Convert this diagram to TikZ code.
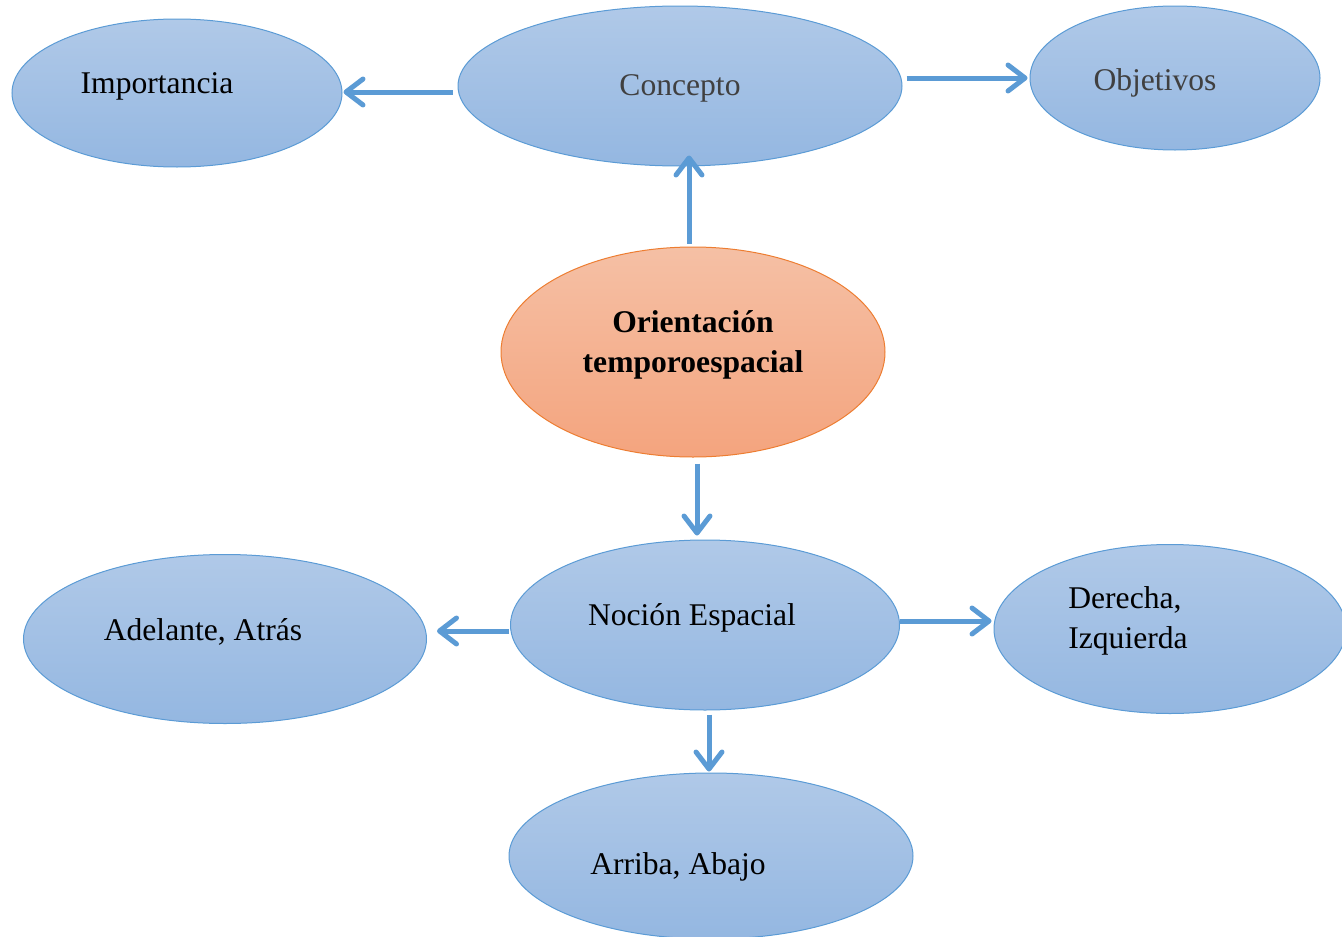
\documentclass[tikz,border=0pt]{standalone}
\usepackage{fontspec}
\setmainfont{Liberation Serif}
\usepackage{tikz}
\usetikzlibrary{shapes,arrows.meta}
\definecolor{bordeazul}{HTML}{5B9BD5}
\definecolor{azularriba}{HTML}{B0C9E8}
\definecolor{azulabajo}{HTML}{94B7E1}
\definecolor{bordenaranja}{HTML}{ED7D31}
\definecolor{naranjaarriba}{HTML}{F5C0A5}
\definecolor{naranjaabajo}{HTML}{F4A47E}

\begin{document}
\begin{tikzpicture}[x=1pt,y=-1pt,font=\fontsize{31.6}{40}\selectfont]
    \tikzstyle{idea}=[ellipse,draw=bordeazul,line width=1pt,top color=azularriba,bottom color=azulabajo,inner sep=0pt]
    \tikzstyle{centro}=[ellipse,draw=bordenaranja,line width=1pt,top color=naranjaarriba,bottom color=naranjaabajo,inner sep=0pt]
    \tikzstyle{flecha}=[draw=bordeazul,line width=5pt,-{Straight Barb[round,length=17pt,width=26pt]}]

    \useasboundingbox (0,0) rectangle (1342,937);
    \clip (0,0) rectangle (1342,937);

    \node(ori)  [centro,minimum width=384pt,minimum height=210pt,
                 label={[yshift=7pt,align=center,font=\fontsize{31.6}{40}\selectfont\bfseries]center:Orientación\\temporoespacial}] at (693,352) {};
    \node(conc) [idea,minimum width=444pt,minimum height=160pt,
                 label={[yshift=-2pt,text=black!75]center:Concepto}] at (680,86) {};
    \node(imp)  [idea,minimum width=330pt,minimum height=148pt,
                 label={[xshift=-20pt,yshift=7pt]center:Importancia}] at (177,93) {};
    \node(obj)  [idea,minimum width=290pt,minimum height=144pt,
                 label={[xshift=-20pt,yshift=-5pt,text=black!75]center:Objetivos}] at (1175,78) {};
    \node(noc)  [idea,minimum width=389pt,minimum height=170pt,
                 label={[xshift=-13pt,yshift=7pt]center:Noción Espacial}] at (705,625) {};
    \node(adel) [idea,minimum width=403pt,minimum height=169pt,
                 label={[xshift=-22pt,yshift=7pt]center:Adelante, Atrás}] at (225,639) {};
    \node(der)  [idea,minimum width=352pt,minimum height=169pt,
                 label={[xshift=-42pt,yshift=8pt,align=left]center:Derecha,\\Izquierda}] at (1170,629) {};
    \node(arr)  [idea,minimum width=404pt,minimum height=166pt,
                 label={[xshift=-33pt,yshift=-11pt]center:Arriba, Abajo}] at (711,856) {};

    \draw [flecha] ([xshift=-5pt,yshift=-6pt]conc.west) -- ([xshift=1pt,yshift=1pt]imp.east);
    \draw [flecha] ([xshift=4pt,yshift=8pt]conc.east) -- ([xshift=-2pt]obj.west);
    \draw [flecha] ([xshift=-4pt,yshift=3pt]ori.north) -- ([xshift=9pt,yshift=11pt]conc.south);
    \draw [flecha] ([xshift=4pt,yshift=-6pt]ori.south) -- ([xshift=-8pt,yshift=4pt]noc.north);
    \draw [flecha] ([xshift=-1pt,yshift=-6pt]noc.west) -- ([xshift=10pt,yshift=8pt]adel.east);
    \draw [flecha] ([yshift=4pt]noc.east) -- ([xshift=-2pt,yshift=8pt]der.west);
    \draw [flecha] ([xshift=4pt,yshift=-4pt]noc.south) -- ([xshift=-2pt,yshift=1pt]arr.north);

\end{tikzpicture}
\end{document}
